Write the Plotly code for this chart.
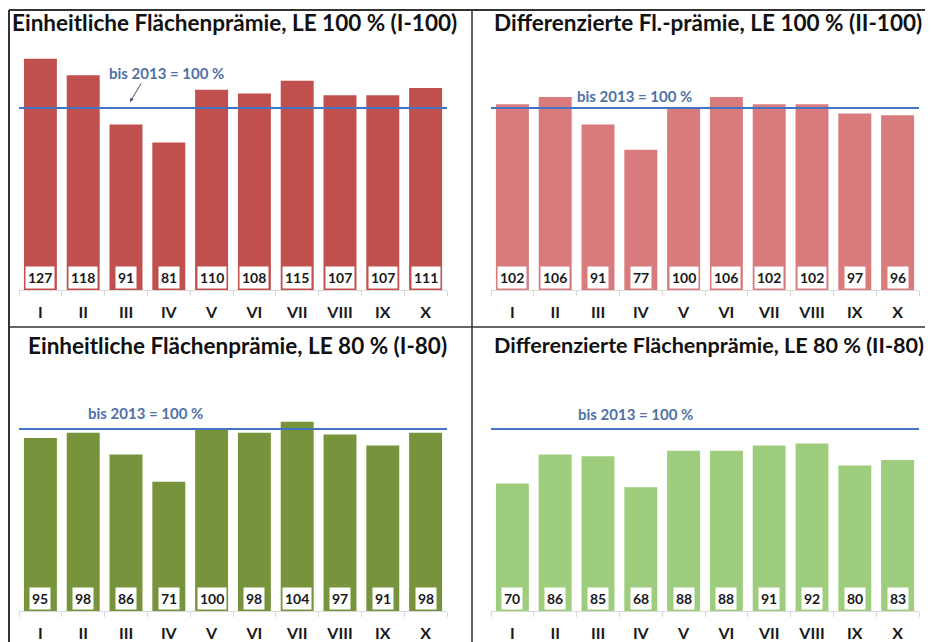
import plotly.graph_objects as go

W, H = 933, 642
OFF = 8  # page body margin offset compensation

categories = ["I", "II", "III", "IV", "V", "VI", "VII", "VIII", "IX", "X"]
vals_i100 = [127, 118, 91, 81, 110, 108, 115, 107, 107, 111]
vals_ii100 = [102, 106, 91, 77, 100, 106, 102, 102, 97, 96]
vals_i80 = [95, 98, 86, 71, 100, 98, 104, 97, 91, 98]
vals_ii80 = [70, 86, 85, 68, 88, 88, 91, 92, 80, 83]
titles = [
    "Einheitliche Flächenprämie, LE 100 % (I-100)",
    "Differenzierte Fl.-prämie, LE 100 % (II-100)",
    "Einheitliche Flächenprämie, LE 80 % (I-80)",
    "Differenzierte Flächenprämie, LE 80 % (II-80)",
]
reference_value = 100
reference_label = "bis 2013 = 100 %"

FONT = "Lato"
colors = ["#c0504d", "#d97b7d", "#77933c", "#9fcd7e"]

# panel geometry in screen pixels: (x0, x1, y_top, y_bottom)
panels = [
    (19, 447, 40, 290),
    (491, 919, 40, 290),
    (19, 447, 361, 611),
    (491, 919, 361, 611),
]
title_pos = [(234, 23), (708, 23), (237, 345), (709, 345)]
title_size = [22.5, 22.5, 22.5, 21.6]
label_pos = [(166, 73), (634, 96), (145, 413), (635, 414)]
px_per_unit = 1.82

series = [vals_i100, vals_ii100, vals_i80, vals_ii80]

fig = go.Figure()
shapes = []
annotations = []

def px(x):
    return (x - OFF) / W

def py(y):
    return 1 - (y - OFF) / H

for i, (vals, col, (x0, x1, yt, yb)) in enumerate(zip(series, colors, panels)):
    n = i + 1
    xa = "x" if n == 1 else f"x{n}"
    ya = "y" if n == 1 else f"y{n}"
    fig.add_trace(go.Bar(x=categories, y=vals, marker=dict(color=col, line=dict(width=0)),
                         xaxis=xa, yaxis=ya, showlegend=False, hoverinfo="x+y"))
    ymax = (yb - yt) / px_per_unit
    fig.update_layout(**{
        ("xaxis" if n == 1 else f"xaxis{n}"): dict(
            domain=[px(x0), px(x1)], anchor=ya, type="category",
            showline=True, linecolor="#d9d9d9", linewidth=1,
            ticks="outside", ticklen=5, tickcolor="#d9d9d9", tickson="boundaries",
            tickfont=dict(family=FONT, size=16, color="#1a1a1a", weight="bold"),
            ticklabelstandoff=8, showgrid=False, zeroline=False, fixedrange=True,
            automargin=False),
        ("yaxis" if n == 1 else f"yaxis{n}"): dict(
            domain=[py(yb), py(yt)], anchor=xa, range=[0, ymax],
            visible=False, showgrid=False, zeroline=False, fixedrange=True,
            automargin=False),
    })
    # reference line
    shapes.append(dict(type="line", xref=f"{xa} domain", yref=ya, x0=0, x1=1,
                       y0=reference_value, y1=reference_value,
                       line=dict(color="#4472c4", width=2)))
    # value labels
    for c, v in zip(categories, vals):
        annotations.append(dict(x=c, y=0, xref=xa, yref=ya, text=f"<b>{v}</b>",
                                showarrow=False, yanchor="bottom", yshift=1,
                                bgcolor="white", borderpad=2,
                                font=dict(family=FONT, size=14, color="#1a1a1a")))
    # titles
    tx, ty = title_pos[i]
    annotations.append(dict(x=px(tx), y=py(ty), xref="paper", yref="paper",
                            text=f"<b>{titles[i]}</b>", showarrow=False,
                            xanchor="center", yanchor="middle",
                            font=dict(family=FONT, size=title_size[i], color="#111111")))
    lx, ly = label_pos[i]
    annotations.append(dict(x=px(lx), y=py(ly), xref="paper", yref="paper",
                            text=f"<b>{reference_label}</b>", showarrow=False,
                            xanchor="center", yanchor="middle",
                            font=dict(family=FONT, size=15, color="#4f71a6")))

# arrow in first panel
annotations.append(dict(x=px(130), y=py(102), xref="paper", yref="paper", text="",
                        showarrow=True, ax=12, ay=-20, arrowhead=2, arrowsize=0.8,
                        arrowwidth=1, arrowcolor="#44546a"))

# frame lines
frame = "#333333"
shapes += [
    dict(type="line", xref="paper", yref="paper", x0=px(9), x1=1, y0=py(10), y1=py(10),
         line=dict(color=frame, width=2), layer="above"),
    dict(type="line", xref="paper", yref="paper", x0=px(9), x1=px(9), y0=py(10), y1=0,
         line=dict(color=frame, width=2), layer="above"),
    dict(type="line", xref="paper", yref="paper", x0=px(9), x1=1, y0=py(327), y1=py(327),
         line=dict(color=frame, width=1.5), layer="above"),
    dict(type="line", xref="paper", yref="paper", x0=px(472), x1=px(472), y0=py(10), y1=0,
         line=dict(color=frame, width=1.5), layer="above"),
]

fig.update_layout(width=W, height=H, margin=dict(l=0, r=0, t=0, b=0, autoexpand=False),
                  paper_bgcolor="white", plot_bgcolor="white", bargap=0.23,
                  shapes=shapes, annotations=annotations,
                  font=dict(family=FONT))

fig.write_html("out.html")
